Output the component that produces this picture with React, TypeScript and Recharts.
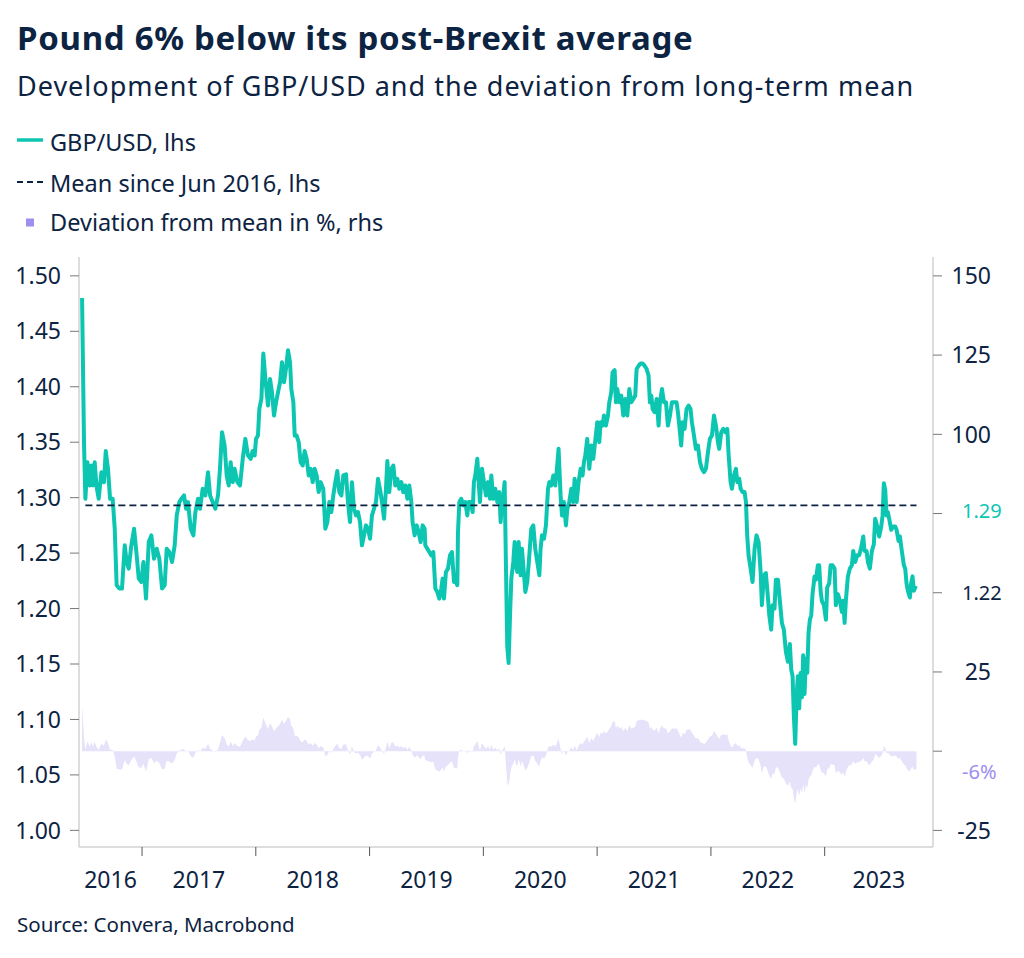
import { ComposedChart, Line, Area, XAxis, YAxis } from 'recharts'

// GBP/USD readings (decimal year, rate)
const dates = [
  2016.473, 2016.49, 2016.502, 2016.52, 2016.54, 2016.555, 2016.569, 2016.584, 2016.599, 2016.619,
  2016.643, 2016.666, 2016.681, 2016.701, 2016.719, 2016.742, 2016.76, 2016.777, 2016.801, 2016.824,
  2016.848, 2016.865, 2016.883, 2016.906, 2016.93, 2016.953, 2016.971, 2016.994,
  2017.012, 2017.035, 2017.059, 2017.082, 2017.105, 2017.129, 2017.152, 2017.176, 2017.199, 2017.217,
  2017.24, 2017.264, 2017.287, 2017.305, 2017.328, 2017.346, 2017.369, 2017.387, 2017.404, 2017.428,
  2017.451, 2017.469, 2017.492, 2017.51, 2017.533, 2017.557, 2017.58, 2017.598, 2017.621, 2017.644,
  2017.668, 2017.685, 2017.703, 2017.726, 2017.744, 2017.762, 2017.779, 2017.797, 2017.814, 2017.838,
  2017.861, 2017.885, 2017.908, 2017.931, 2017.955, 2017.972, 2017.99,
  2018.002, 2018.019, 2018.031, 2018.049, 2018.066, 2018.084, 2018.096, 2018.107, 2018.125, 2018.142,
  2018.16, 2018.178, 2018.195, 2018.213, 2018.23, 2018.248, 2018.265, 2018.283, 2018.301, 2018.312,
  2018.33, 2018.342, 2018.359, 2018.377, 2018.394, 2018.412, 2018.429, 2018.447, 2018.465, 2018.482,
  2018.5, 2018.517, 2018.535, 2018.552, 2018.57, 2018.593, 2018.611, 2018.629, 2018.646, 2018.664,
  2018.681, 2018.699, 2018.716, 2018.734, 2018.752, 2018.769, 2018.793, 2018.81, 2018.828, 2018.845,
  2018.863, 2018.881, 2018.898, 2018.916, 2018.933, 2018.951, 2018.968, 2018.986,
  2019.004, 2019.021, 2019.039, 2019.056, 2019.074, 2019.091, 2019.109, 2019.127, 2019.144, 2019.156,
  2019.173, 2019.191, 2019.209, 2019.226, 2019.244, 2019.261, 2019.279, 2019.296, 2019.314, 2019.332,
  2019.349, 2019.367, 2019.378, 2019.396, 2019.414, 2019.431, 2019.449, 2019.466, 2019.484, 2019.49,
  2019.507, 2019.525, 2019.543, 2019.56, 2019.578, 2019.595, 2019.613, 2019.63, 2019.642, 2019.654,
  2019.671, 2019.689, 2019.707, 2019.724, 2019.742, 2019.759, 2019.771, 2019.777, 2019.789, 2019.806,
  2019.824, 2019.841, 2019.859, 2019.871, 2019.888, 2019.906, 2019.917, 2019.929, 2019.947, 2019.959,
  2019.97, 2019.988,
  2020.005, 2020.023, 2020.041, 2020.058, 2020.07, 2020.087, 2020.105, 2020.123, 2020.14, 2020.152,
  2020.164, 2020.175, 2020.187, 2020.199, 2020.21, 2020.222, 2020.234, 2020.246, 2020.263, 2020.275,
  2020.287, 2020.298, 2020.31, 2020.328, 2020.339, 2020.351, 2020.369, 2020.386, 2020.404, 2020.421,
  2020.439, 2020.456, 2020.474, 2020.492, 2020.503, 2020.515, 2020.533, 2020.55, 2020.568, 2020.58,
  2020.597, 2020.615, 2020.632, 2020.644, 2020.661, 2020.679, 2020.691, 2020.708, 2020.726, 2020.738,
  2020.755, 2020.773, 2020.79, 2020.802, 2020.82, 2020.837, 2020.855, 2020.872, 2020.884, 2020.896,
  2020.913, 2020.931, 2020.949, 2020.966,
  2021.001, 2021.019, 2021.031, 2021.048, 2021.06, 2021.077, 2021.095, 2021.107, 2021.124, 2021.136,
  2021.154, 2021.165, 2021.177, 2021.195, 2021.212, 2021.23, 2021.247, 2021.265, 2021.283, 2021.3,
  2021.318, 2021.335, 2021.347, 2021.365, 2021.382, 2021.4, 2021.417, 2021.435, 2021.452, 2021.464,
  2021.476, 2021.488, 2021.505, 2021.523, 2021.54, 2021.552, 2021.57, 2021.587, 2021.605, 2021.622,
  2021.64, 2021.657, 2021.675, 2021.698, 2021.71, 2021.722, 2021.739, 2021.751, 2021.769, 2021.786,
  2021.804, 2021.821, 2021.833, 2021.851, 2021.868, 2021.886, 2021.904, 2021.921, 2021.939, 2021.956,
  2021.974, 2021.991,
  2022.009, 2022.027, 2022.044, 2022.062, 2022.073, 2022.091, 2022.109, 2022.126, 2022.144, 2022.156,
  2022.173, 2022.185, 2022.202, 2022.22, 2022.232, 2022.249, 2022.261, 2022.278, 2022.296, 2022.308,
  2022.319, 2022.331, 2022.349, 2022.366, 2022.384, 2022.401, 2022.419, 2022.437, 2022.448, 2022.466,
  2022.483, 2022.501, 2022.513, 2022.53, 2022.542, 2022.559, 2022.571, 2022.589, 2022.606, 2022.624,
  2022.641, 2022.659, 2022.677, 2022.694, 2022.706, 2022.718, 2022.729, 2022.741, 2022.753, 2022.764,
  2022.776, 2022.788, 2022.8, 2022.811, 2022.823, 2022.835, 2022.847, 2022.858, 2022.87, 2022.882,
  2022.893, 2022.911, 2022.923, 2022.94, 2022.952, 2022.964, 2022.975, 2022.993,
  2023.011, 2023.022, 2023.04, 2023.052, 2023.069, 2023.087, 2023.098, 2023.116, 2023.134, 2023.151,
  2023.163, 2023.175, 2023.186, 2023.204, 2023.221, 2023.239, 2023.251, 2023.268, 2023.286, 2023.303,
  2023.321, 2023.339, 2023.35, 2023.368, 2023.38, 2023.397, 2023.415, 2023.432, 2023.444, 2023.462,
  2023.479, 2023.497, 2023.509, 2023.52, 2023.532, 2023.544, 2023.555, 2023.567, 2023.585, 2023.602,
  2023.62, 2023.632, 2023.649, 2023.661, 2023.678, 2023.696, 2023.708, 2023.719, 2023.731, 2023.749,
  2023.76, 2023.772, 2023.784, 2023.796, 2023.807,
]

const gbpUsd = [
  1.48, 1.35, 1.299, 1.332, 1.311, 1.329, 1.311, 1.332, 1.311, 1.299,
  1.323, 1.314, 1.342, 1.326, 1.299, 1.299, 1.272, 1.221, 1.218, 1.218,
  1.257, 1.242, 1.236, 1.257, 1.272, 1.248, 1.227, 1.224,
  1.242, 1.209, 1.26, 1.266, 1.245, 1.254, 1.245, 1.218, 1.221, 1.254,
  1.251, 1.242, 1.257, 1.284, 1.296, 1.299, 1.302, 1.29, 1.296, 1.272,
  1.266, 1.287, 1.299, 1.29, 1.308, 1.302, 1.323, 1.302, 1.296, 1.29,
  1.302, 1.326, 1.359, 1.347, 1.32, 1.311, 1.332, 1.314, 1.326, 1.314,
  1.311, 1.335, 1.353, 1.338, 1.335, 1.342, 1.338,
  1.353, 1.356, 1.38, 1.389, 1.43, 1.407, 1.395, 1.383, 1.407, 1.395,
  1.374, 1.386, 1.395, 1.404, 1.422, 1.404, 1.416, 1.433, 1.422, 1.398,
  1.386, 1.356, 1.356, 1.35, 1.332, 1.329, 1.342, 1.335, 1.32, 1.326,
  1.314, 1.326, 1.32, 1.305, 1.314, 1.308, 1.272, 1.278, 1.296, 1.287,
  1.302, 1.314, 1.324, 1.305, 1.302, 1.32, 1.321, 1.296, 1.278, 1.314,
  1.29, 1.284, 1.287, 1.278, 1.257, 1.266, 1.275, 1.272,
  1.263, 1.284, 1.29, 1.296, 1.317, 1.308, 1.296, 1.281, 1.308, 1.333,
  1.305, 1.326, 1.329, 1.311, 1.317, 1.308, 1.314, 1.305, 1.311, 1.299,
  1.311, 1.296, 1.278, 1.266, 1.275, 1.269, 1.26, 1.275, 1.272, 1.257,
  1.254, 1.251, 1.248, 1.251, 1.218, 1.215, 1.209, 1.218, 1.227, 1.209,
  1.233, 1.236, 1.248, 1.251, 1.224, 1.224, 1.221, 1.269, 1.296, 1.299,
  1.293, 1.296, 1.284, 1.296, 1.296, 1.287, 1.314, 1.32, 1.335, 1.314,
  1.296, 1.326,
  1.314, 1.302, 1.314, 1.299, 1.32, 1.299, 1.308, 1.296, 1.305, 1.278,
  1.296, 1.302, 1.314, 1.236, 1.166, 1.151, 1.193, 1.227, 1.242, 1.26,
  1.239, 1.233, 1.26, 1.23, 1.254, 1.239, 1.215, 1.224, 1.248, 1.272,
  1.275, 1.254, 1.242, 1.23, 1.254, 1.266, 1.263, 1.275, 1.308, 1.314,
  1.311, 1.32, 1.311, 1.323, 1.344, 1.302, 1.284, 1.296, 1.275, 1.29,
  1.296, 1.308, 1.296, 1.317, 1.296, 1.314, 1.326, 1.32, 1.332, 1.338,
  1.353, 1.326, 1.347, 1.335,
  1.368, 1.35, 1.368, 1.365, 1.374, 1.365, 1.374, 1.386, 1.395, 1.413,
  1.415, 1.386, 1.398, 1.386, 1.392, 1.374, 1.389, 1.374, 1.398, 1.386,
  1.389, 1.392, 1.416, 1.419, 1.421, 1.421, 1.419, 1.416, 1.41, 1.386,
  1.392, 1.38, 1.377, 1.389, 1.365, 1.386, 1.398, 1.386, 1.386, 1.365,
  1.374, 1.386, 1.386, 1.386, 1.377, 1.365, 1.347, 1.368, 1.362, 1.38,
  1.383, 1.38, 1.368, 1.356, 1.344, 1.347, 1.332, 1.326, 1.323, 1.326,
  1.341, 1.353,
  1.356, 1.374, 1.365, 1.35, 1.344, 1.359, 1.362, 1.359, 1.362, 1.338,
  1.314, 1.308, 1.32, 1.326, 1.314, 1.317, 1.308, 1.305, 1.305, 1.296,
  1.266, 1.248, 1.236, 1.224, 1.254, 1.266, 1.26, 1.233, 1.203, 1.23,
  1.232, 1.21, 1.194, 1.181, 1.203, 1.2, 1.226, 1.226, 1.207, 1.187,
  1.181, 1.161, 1.152, 1.168, 1.145, 1.139, 1.103, 1.078, 1.12, 1.139,
  1.11, 1.142, 1.12, 1.158, 1.123, 1.155, 1.142, 1.178, 1.19, 1.194,
  1.213, 1.229, 1.226, 1.239, 1.239, 1.216, 1.207, 1.203,
  1.19, 1.219, 1.223, 1.239, 1.239, 1.236, 1.203, 1.213, 1.207, 1.197,
  1.207, 1.187, 1.207, 1.229, 1.236, 1.239, 1.252, 1.242, 1.248, 1.248,
  1.255, 1.265, 1.252, 1.252, 1.242, 1.236, 1.252, 1.258, 1.281, 1.274,
  1.265, 1.274, 1.284, 1.313, 1.307, 1.284, 1.287, 1.281, 1.271, 1.274,
  1.274, 1.271, 1.261, 1.265, 1.252, 1.239, 1.236, 1.223, 1.216, 1.21,
  1.223, 1.229, 1.216, 1.219, 1.218,
]

const MEAN = 1.293
const MEAN_FROM = 2016.5
const yearTicks = [2017, 2018, 2019, 2020, 2021, 2022, 2023]
const leftTicks = [1.0, 1.05, 1.1, 1.15, 1.2, 1.25, 1.3, 1.35, 1.4, 1.45, 1.5]
const rightTicks = [-25, 0, 25, 50, 75, 100, 125, 150]
const meanLabel = '1.29'
const lastLabel = '1.22'
const devLabel = '-6%'

const X_MIN = 2016.446
const X_MAX = 2023.952
const PLOT_L = 79
const PLOT_R = 933

const FONT = "'Noto Sans', sans-serif"
const NAVY = '#0d2342'
const TEAL = '#0cc6b2'
const LAVENDER = '#e5e2fa'
const PURPLE = '#9d8ef0'

const data = dates.map((t, i) => ({
  t,
  gbp: gbpUsd[i],
  dev: (gbpUsd[i] / MEAN - 1) * 100,
  mean: t >= MEAN_FROM ? MEAN : null,
}))

const px = (t: number) => PLOT_L + ((t - X_MIN) / (X_MAX - X_MIN)) * (PLOT_R - PLOT_L)
const yearCenter = (y: number) => (px(Math.max(y, X_MIN)) + px(Math.min(y + 1, X_MAX))) / 2

function YearTick({ payload }: any) {
  const v = payload.value
  const last = yearTicks[yearTicks.length - 1]
  const style = { fontSize: 23, fill: NAVY, fontFamily: FONT }
  return (
    <g>
      <text x={yearCenter(v - 1)} y={888} textAnchor="middle" {...style}>{v - 1}</text>
      {v === last && <text x={yearCenter(v)} y={888} textAnchor="middle" {...style}>{v}</text>}
    </g>
  )
}

function RightTick({ y, payload }: any) {
  const v = payload.value
  if (v === 75)
    return <text x={962} y={y - 3} dy="0.36em" fontSize={20} fill={TEAL} fontFamily={FONT}>{meanLabel}</text>
  if (v === 50)
    return <text x={962} y={y} dy="0.36em" fontSize={20} fill={NAVY} fontFamily={FONT}>{lastLabel}</text>
  if (v === 0)
    return <text x={962} y={y + 21} dy="0.36em" fontSize={20} fill={PURPLE} fontFamily={FONT}>{devLabel}</text>
  return <text x={991} y={y} dy="0.36em" textAnchor="end" fontSize={23} fill={NAVY} fontFamily={FONT}>{v}</text>
}

export default function App() {
  return (
    <div style={{ position: 'absolute', left: 0, top: 0, width: 1024, height: 958, background: '#fff' }}>
      <ComposedChart
        width={1024}
        height={958}
        data={data}
        margin={{ top: 257, right: 0, bottom: 51, left: 0 }}
      >
        <XAxis
          dataKey="t"
          type="number"
          domain={[X_MIN, X_MAX]}
          allowDataOverflow
          ticks={yearTicks}
          interval={0}
          height={60}
          tick={<YearTick />}
          tickSize={9}
          axisLine={{ stroke: '#d2d2d2', strokeWidth: 1.5 }}
          tickLine={{ stroke: '#555' }}
        />
        <YAxis
          yAxisId="left"
          type="number"
          domain={[0.985, 1.517]}
          allowDataOverflow
          ticks={leftTicks}
          interval={0}
          width={79}
          tickFormatter={(v: number) => v.toFixed(2)}
          tick={{ fontSize: 23, fill: NAVY, fontFamily: FONT }}
          tickSize={9}
          tickMargin={9}
          axisLine={{ stroke: '#d2d2d2', strokeWidth: 1.5 }}
          tickLine={{ stroke: '#777' }}
        />
        <YAxis
          yAxisId="right"
          orientation="right"
          type="number"
          domain={[-30.24, 155.96]}
          allowDataOverflow
          ticks={rightTicks}
          interval={0}
          width={91}
          tick={<RightTick />}
          tickSize={9}
          axisLine={{ stroke: '#d2d2d2', strokeWidth: 1.5 }}
          tickLine={{ stroke: '#777' }}
        />
        <Area
          yAxisId="right"
          dataKey="dev"
          type="linear"
          baseValue={0}
          stroke="none"
          fill={LAVENDER}
          fillOpacity={1}
          isAnimationActive={false}
        />
        <Line
          yAxisId="left"
          dataKey="gbp"
          type="linear"
          stroke={TEAL}
          strokeWidth={4}
          strokeLinejoin="round"
          dot={false}
          isAnimationActive={false}
        />
        <Line
          yAxisId="left"
          dataKey="mean"
          type="linear"
          stroke={NAVY}
          strokeWidth={1.8}
          strokeDasharray="7 4"
          dot={false}
          connectNulls={false}
          isAnimationActive={false}
        />
      </ComposedChart>

      <svg width={1024} height={958} style={{ position: 'absolute', left: 0, top: 0, pointerEvents: 'none' }}>
        <g fontFamily={FONT} fill={NAVY}>
          <text x={17} y={50} fontSize={33} fontWeight={700} letterSpacing={0.7}>Pound 6% below its post-Brexit average</text>
          <text x={17} y={96} fontSize={27} letterSpacing={1}>Development of GBP/USD and the deviation from long-term mean</text>

          <line x1={17} x2={43} y1={140} y2={140} stroke={TEAL} strokeWidth={3.5} />
          <text x={50} y={151} fontSize={23.5}>GBP/USD, lhs</text>

          <line x1={17} x2={43} y1={182} y2={182} stroke={NAVY} strokeWidth={1.8} strokeDasharray="6 4" />
          <text x={50} y={192} fontSize={23.5}>Mean since Jun 2016, lhs</text>

          <rect x={26} y={218.5} width={8} height={8} fill={PURPLE} />
          <text x={50} y={231} fontSize={23.5}>Deviation from mean in %, rhs</text>

          <text x={17} y={932} fontSize={20.5}>Source: Convera, Macrobond</text>
        </g>
      </svg>
    </div>
  )
}
